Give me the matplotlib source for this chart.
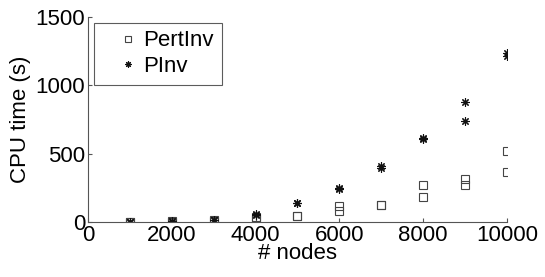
import matplotlib
matplotlib.use("Agg")
import matplotlib.pyplot as plt

nodes = [1000, 2000, 3000, 4000, 5000, 6000, 7000, 8000, 9000, 10000]
pertinv_run1 = [2, 3, 10, 20, 44, 80, 124, 185, 268, 363]
pertinv_run2 = [3, 4, 14, 39, 44, 117, 126, 268, 312, 521]
pinv_run1 = [3, 4, 15, 55, 136, 246, 397, 609, 740, 1217]
pinv_run2 = [2, 3, 12, 50, 136, 244, 409, 613, 877, 1237]

xticks = [0, 2000, 4000, 6000, 8000, 10000]
yticks = [0, 500, 1000, 1500]

plt.rcParams['font.family'] = ['Liberation Sans', 'DejaVu Sans']
fig = plt.figure(figsize=(5.45, 2.77), dpi=100)
ax = fig.add_axes([0.1615, 0.1986, 0.930 - 0.1615, 0.9386 - 0.1986])

sq = dict(marker='s', markersize=6, markerfacecolor='none', markeredgecolor='#444444',
          markeredgewidth=0.8, linestyle='none')
st = dict(marker=(8, 2, 0), markersize=6, color='#111111', markeredgewidth=0.8, linestyle='none')

ax.plot(nodes + nodes, pertinv_run1 + pertinv_run2, label='PertInv', **sq)
ax.plot(nodes + nodes, pinv_run1 + pinv_run2, label='PInv', **st)

ax.set_xlim(0, 10000)
ax.set_ylim(0, 1500)
ax.set_xticks(xticks)
ax.set_yticks(yticks)
ax.tick_params(direction='in', length=3, width=0.8, color='#555555', labelsize=16, pad=2)
for s in ['top', 'right']:
    ax.spines[s].set_visible(False)
for s in ['left', 'bottom']:
    ax.spines[s].set_color('#555555')
    ax.spines[s].set_linewidth(0.8)

ax.set_xlabel('# nodes', fontsize=16, labelpad=-2)
ax.set_ylabel('CPU time (s)', fontsize=16, labelpad=3)

leg = ax.legend(loc='upper left', fontsize=16, frameon=True, fancybox=False,
                edgecolor='#333333', borderpad=0.35, labelspacing=0.22,
                handlelength=2.4, handletextpad=-0.5, borderaxespad=0.25,
                markerscale=0.75)
leg.get_frame().set_linewidth(0.8)

fig.savefig('out.png', dpi=100)
